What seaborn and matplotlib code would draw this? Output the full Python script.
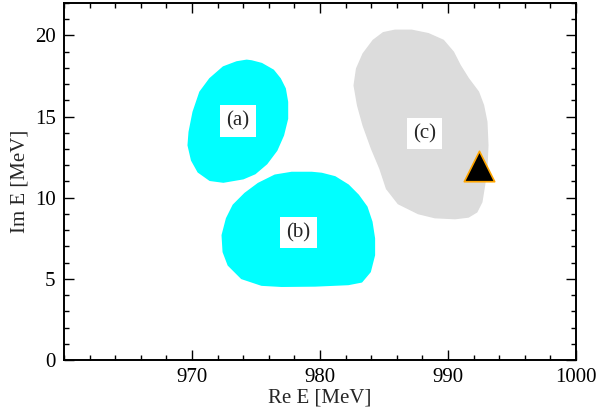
import matplotlib
matplotlib.use("Agg")
import matplotlib.pyplot as plt
import seaborn as sns
import pandas as pd
from matplotlib.ticker import MultipleLocator

# outlines of the three regions (Re E, Im E in MeV)
region_a_re = [974.66, 975.44, 976.35, 976.88, 977.27, 977.45, 977.45, 977.13,
               976.61, 975.83, 974.92, 974.0, 972.45, 971.4, 970.49, 969.98,
               969.71, 969.79, 970.1, 970.63, 971.4, 972.45, 973.49, 974.27]
region_a_im = [18.42, 18.26, 17.85, 17.33, 16.72, 15.9, 14.87, 13.85,
               12.92, 12.1, 11.49, 11.18, 10.97, 11.08, 11.59, 12.31,
               13.23, 14.05, 15.28, 16.51, 17.33, 18.05, 18.36, 18.46]

region_b_re = [979.35, 977.79, 976.48, 975.18, 974.14, 973.23, 972.71, 972.37,
               972.45, 972.84, 973.88, 975.44, 977.0, 979.61, 982.21, 983.25,
               983.91, 984.24, 984.24, 984.04, 983.65, 982.99, 982.21, 981.17,
               980.13]
region_b_im = [11.55, 11.55, 11.38, 10.87, 10.26, 9.54, 8.72, 7.69,
               6.66, 5.85, 5.03, 4.62, 4.55, 4.57, 4.66, 4.82,
               5.44, 6.46, 7.49, 8.51, 9.43, 10.15, 10.77, 11.28,
               11.49]

region_c_re = [985.86, 987.16, 988.46, 989.63, 990.41, 990.94, 991.59, 992.37,
               992.76, 993.02, 993.1, 993.02, 992.84, 992.63, 992.24, 991.59,
               990.55, 988.98, 987.68, 986.12, 985.21, 984.69, 984.04, 983.38,
               982.95, 982.68, 982.87, 983.38, 984.16, 984.95]
region_c_im = [20.31, 20.31, 20.1, 19.69, 18.97, 18.15, 17.33, 16.51,
               15.69, 14.67, 13.23, 11.8, 10.77, 9.74, 9.13, 8.82,
               8.72, 8.78, 9.03, 9.64, 10.56, 11.8, 13.02, 14.46,
               15.69, 16.92, 17.95, 18.87, 19.69, 20.16]

labels = ["(a)", "(b)", "(c)"]
label_re = [973.6, 978.3, 988.15]
label_im = [14.75, 7.85, 13.95]

pole_re = [992.4]
pole_im = [11.95]

sns.set_theme(style="ticks")
plt.rcParams["font.family"] = ["Liberation Serif", "DejaVu Serif"]

fig = plt.figure(figsize=(6.16, 4.09), dpi=100)
ax = fig.add_axes([0.1039, 0.1198, 0.8312, 0.8729])

ax.fill(region_a_re, region_a_im, fc="#00FFFF", ec="#00FFFF", lw=1.2, joinstyle="round")
ax.fill(region_b_re, region_b_im, fc="#00FFFF", ec="#00FFFF", lw=1.2, joinstyle="round")
ax.fill(region_c_re, region_c_im, fc="#DCDCDC", ec="#DCDCDC", lw=1.2, joinstyle="round")

for lab, x, y in zip(labels, label_re, label_im):
    ax.text(x, y, lab, fontsize=15, ha="center", va="center",
            bbox=dict(boxstyle="square,pad=0.3", fc="white", ec="none"))

pole = pd.DataFrame({"re": pole_re, "im": pole_im})
sns.scatterplot(data=pole, x="re", y="im", marker="^", s=480, color="black",
                edgecolor="#FFA500", linewidth=1.2, ax=ax, zorder=5)

ax.set_xlim(960, 1000)
ax.set_ylim(0, 22)
ax.xaxis.set_minor_locator(MultipleLocator(2))
ax.yaxis.set_major_locator(MultipleLocator(5))
ax.yaxis.set_minor_locator(MultipleLocator(1))
ax.set_xticks([970, 980, 990, 1000])

ax.tick_params(which="both", direction="in", top=True, right=True,
               labelsize=15, colors="black", width=1.0)
ax.tick_params(which="major", length=7, pad=6)
ax.tick_params(which="minor", length=3.5)
for sp in ax.spines.values():
    sp.set_linewidth(1.4)
    sp.set_color("black")

ax.set_xlabel("Re E [MeV]", fontsize=15, labelpad=1)
ax.set_ylabel("Im E [MeV]", fontsize=15, labelpad=4)

fig.savefig("out.png", dpi=100)
